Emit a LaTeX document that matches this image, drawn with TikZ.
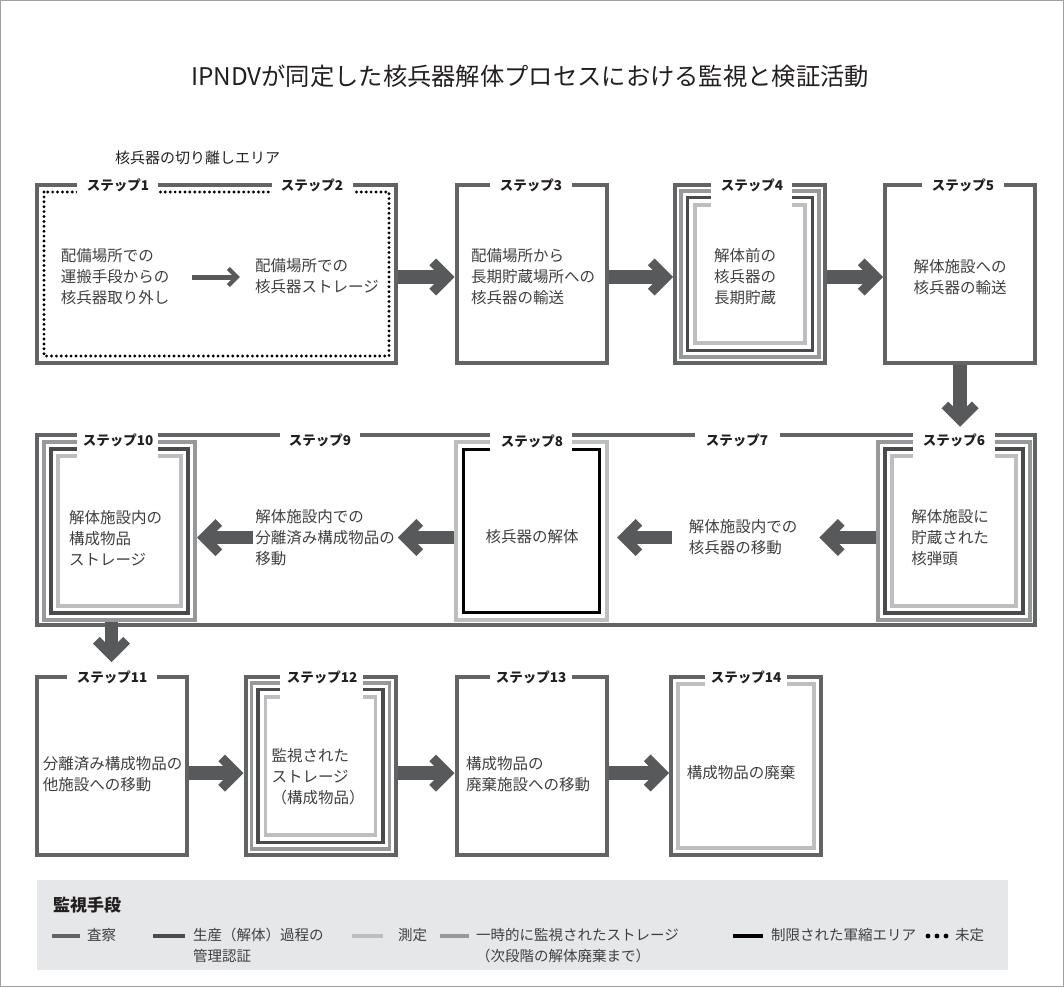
\documentclass[tikz,border=0pt]{standalone}
\usepackage{tikz}
\usepackage{fontspec}
\setmainfont{Noto Sans CJK JP}
\usetikzlibrary{arrows.meta,calc}
\definecolor{insp}{HTML}{626365}
\definecolor{prod}{HTML}{4A4A4C}
\definecolor{meas}{HTML}{BCBEC0}
\definecolor{temp}{HTML}{97989A}
\definecolor{arr}{HTML}{58595B}
\definecolor{txtc}{HTML}{3F3F41}
\definecolor{ink}{HTML}{231F20}
\definecolor{legbg}{HTML}{E6E7E8}
\definecolor{edge}{HTML}{A0A0A0}

\pgfdeclarearrow{
  name = BigChev,
  setup code = {
    \pgfarrowssettipend{0pt}
    \pgfarrowssetlineend{-10pt}
    \pgfarrowssetbackend{-25.2pt}
  },
  drawing code = {
    \pgfpathmoveto{\pgfqpoint{0pt}{0pt}}
    \pgfpathlineto{\pgfqpoint{-18.5pt}{18.5pt}}
    \pgfpathlineto{\pgfqpoint{-25.2pt}{11.8pt}}
    \pgfpathlineto{\pgfqpoint{-13.4pt}{0pt}}
    \pgfpathlineto{\pgfqpoint{-25.2pt}{-11.8pt}}
    \pgfpathlineto{\pgfqpoint{-18.5pt}{-18.5pt}}
    \pgfpathclose
    \pgfusepathqfill
  }
}
\pgfdeclarearrow{
  name = SmallChev,
  setup code = {
    \pgfarrowssettipend{0pt}
    \pgfarrowssetlineend{-4.5pt}
    \pgfarrowssetbackend{-13pt}
  },
  drawing code = {
    \pgfpathmoveto{\pgfqpoint{0pt}{0pt}}
    \pgfpathlineto{\pgfqpoint{-10pt}{10pt}}
    \pgfpathlineto{\pgfqpoint{-13pt}{7pt}}
    \pgfpathlineto{\pgfqpoint{-6pt}{0pt}}
    \pgfpathlineto{\pgfqpoint{-13pt}{-7pt}}
    \pgfpathlineto{\pgfqpoint{-10pt}{-10pt}}
    \pgfpathclose
    \pgfusepathqfill
  }
}
\newcommand\nestline[4]{\draw[draw=#3, line width=#4] ($(#1.north west)+(#2,#2)$) rectangle ($(#1.south east)+(-#2,-#2)$);}

\begin{document}
\begin{tikzpicture}[x=1pt,y=-1pt,
  box/.style={draw=insp, line width=4pt, minimum width=150pt, minimum height=178pt, inner sep=0pt},
  txt/.style={font=\fontsize{15.5pt}{21pt}\selectfont, text=txtc, align=left, inner sep=0pt},
  lab/.style={font=\fontsize{13.5pt}{14pt}\selectfont\bfseries, text=ink, inner sep=0pt},
  gapw/.style={fill=white, draw=none},
  bigarr/.style={draw=arr, line width=13.5pt, -{BigChev}},
  smallarr/.style={draw=arr, line width=5pt, -{SmallChev}},
  dotline/.style={draw=black, dash pattern=on 0pt off 4.9pt, line cap=round, line width=3.2pt},
  legtxt/.style={font=\fontsize{14.5pt}{21pt}\selectfont, text=txtc, align=left, inner sep=0pt, anchor=north west},
  legline/.style={line width=4pt}
]
\useasboundingbox (0,0) rectangle (1064,987);
\draw[edge, line width=1pt] (0.5,0.5) rectangle (1063.5,986.5);

% title
\node[font=\fontsize{24.3pt}{28pt}\selectfont, text=ink] (title) at (530,76) {IPNDVが同定した核兵器解体プロセスにおける監視と検証活動};
\node[font=\fontsize{15pt}{18pt}\selectfont, text=ink, anchor=west, inner sep=0pt] (area) at (115,158) {核兵器の切り離しエリア};

% row 1
\node[box, minimum width=359pt] (f12) at (216.5,274) {};
\draw[dotline] ($(f12.north west)+(9,9)$) rectangle ($(f12.south east)+(-9,-9)$);
\node[box] (s3) at (531.5,274) {};
\node[box] (s4) at (750,274) {};
\nestline{s4}{8}{temp}{3.5pt}
\nestline{s4}{14.5}{prod}{3.5pt}
\nestline{s4}{22}{meas}{3.5pt}
\node[box] (s5) at (960,274) {};

% row 2
\node[box, line width=4.5pt, minimum width=998pt, minimum height=190pt] (fr) at (536,530) {};
\node[box, draw=temp, minimum width=152pt] (s6) at (954,531) {};
\nestline{s6}{9}{prod}{3.5pt}
\nestline{s6}{16}{meas}{3.5pt}
\node[box, draw=meas, minimum width=151pt] (s8) at (531.5,531) {};
\nestline{s8}{9.5}{black}{3.5pt}
\node[box, draw=temp, minimum width=151pt] (s10) at (119.5,531) {};
\nestline{s10}{9}{prod}{3.5pt}
\nestline{s10}{16}{meas}{3.5pt}

% row 3
\node[box] (s11) at (111.5,766) {};
\node[box] (s12) at (320.5,766) {};
\nestline{s12}{8}{temp}{3.5pt}
\nestline{s12}{14.5}{prod}{3.5pt}
\nestline{s12}{22}{meas}{3.5pt}
\node[box] (s13) at (531.5,766) {};
\node[box] (s14) at (746,766) {};
\nestline{s14}{9}{meas}{3.5pt}

% label gaps
\fill[gapw] (77,180) rectangle (158,197);
\fill[gapw] (272,180) rectangle (353,197);
\fill[gapw] (490,180) rectangle (572,190);
\fill[gapw] (711,180) rectangle (792,208);
\fill[gapw] (922,180) rectangle (1004,190);
\fill[gapw] (77,430) rectangle (158,459);
\fill[gapw] (280,430) rectangle (360,440);
\fill[gapw] (490,430) rectangle (572,452);
\fill[gapw] (695,430) rectangle (780,440);
\fill[gapw] (913,430) rectangle (995,459);
\fill[gapw] (67,672) rectangle (157,682);
\fill[gapw] (280,672) rectangle (363,701);
\fill[gapw] (490,672) rectangle (572,682);
\fill[gapw] (705,672) rectangle (787,687);

% step labels
\node[lab] (l1) at (118,185) {ステップ1};
\node[lab] (l2) at (312,185) {ステップ2};
\node[lab] (l3) at (531,185) {ステップ3};
\node[lab] (l4) at (752,185) {ステップ4};
\node[lab] (l5) at (963,185) {ステップ5};
\node[lab] (l6) at (954,440) {ステップ6};
\node[lab] (l7) at (737,440) {ステップ7};
\node[lab] (l8) at (532,441) {ステップ8};
\node[lab] (l9) at (320,440) {ステップ9};
\node[lab] (l10) at (118,440) {ステップ10};
\node[lab] (l11) at (112,677) {ステップ11};
\node[lab] (l12) at (322,677) {ステップ12};
\node[lab] (l13) at (531,677) {ステップ13};
\node[lab] (l14) at (746,677) {ステップ14};

% texts
\node[txt] (t1) at (115,277) {配備場所での\\運搬手段からの\\核兵器取り外し};
\node[txt] (t2) at (317,276) {配備場所での\\核兵器ストレージ};
\node[txt] (t3) at (533,277) {配備場所から\\長期貯蔵場所への\\核兵器の輸送};
\node[txt] (t4) at (745,277) {解体前の\\核兵器の\\長期貯蔵};
\node[txt] (t5) at (960,277.5) {解体施設への\\核兵器の輸送};
\node[txt] (t6) at (950,538) {解体施設に\\貯蔵された\\核弾頭};
\node[txt] (t7) at (743,537.5) {解体施設内での\\核兵器の移動};
\node[txt] (t8) at (532,537) {核兵器の解体};
\node[txt] (t9) at (325,538) {解体施設内での\\分離済み構成物品の\\移動};
\node[txt] (t10) at (115.5,538) {解体施設内の\\構成物品\\ストレージ};
\node[txt] (t11) at (112.5,774) {分離済み構成物品の\\他施設への移動};
\node[txt] (t12) at (318,777) {監視された\\ストレージ\\（構成物品）};
\node[txt] (t13) at (528,774) {構成物品の\\廃棄施設への移動};
\node[txt] (t14) at (741,773) {構成物品の廃棄};

% arrows
\draw[smallarr] ($(t1.east)+(23,0)$) -- ($(t1.east -| t2.west)+(-15,0)$);
\draw[bigarr] ($(f12.east)+(0,3)$) -- ($(s3.west)+(0,3)$);
\draw[bigarr] ($(s3.east)+(0,3)$) -- ($(s4.west)+(0,3)$);
\draw[bigarr] ($(s4.east)+(0,3)$) -- ($(s5.west)+(0,3)$);
\path (s5.south |- fr.north) ++(0,-6) coordinate (d6);
\draw[bigarr] (s5.south) -- (d6);
\draw[bigarr] (s6.west |- t7.east) -- ($(t7.east)+(22,0)$);
\draw[bigarr] ($(t7.west)+(-17,0)$) -- ($(s8.east |- t7.west)+(8,0)$);
\draw[bigarr] (s8.west |- t7.west) -- ($(t9.east |- t7.west)+(3,0)$);
\draw[bigarr] ($(t9.west |- t7.west)+(-2,0)$) -- (s10.east |- t7.west);
\path (s11.north) ++(0,-13) coordinate (d11);
\draw[bigarr] (s10.south -| s11.north) -- (d11);
\draw[bigarr] ($(s11.east)+(0,7)$) -- ($(s12.west)+(0,7)$);
\draw[bigarr] ($(s12.east)+(0,7)$) -- ($(s13.west)+(0,7)$);
\draw[bigarr] ($(s13.east)+(0,7)$) -- ($(s14.west)+(0,7)$);

% legend
\fill[legbg] (37,880) rectangle (1008,970);
\node[font=\fontsize{17pt}{20pt}\selectfont\bfseries, text=ink, anchor=west, inner sep=0pt] (lt) at (53,905) {監視手段};
\draw[legline, insp] (52,936) -- (80,936);
\node[legtxt] (g1) at (87,928) {査察};
\draw[legline, prod] (153,936) -- (185,936);
\node[legtxt] (g2) at (193,928) {生産（解体）過程の\\管理認証};
\draw[legline, meas] (352,936) -- (383,936);
\node[legtxt] (g3) at (398,928) {測定};
\draw[legline, temp] (440,936) -- (469,936);
\node[legtxt] (g4) at (476,928) {一時的に監視されたストレージ\\（次段階の解体廃棄まで）};
\draw[legline, black] (733,936) -- (763,936);
\node[legtxt] (g5) at (771,928) {制限された軍縮エリア};
\fill[black] (928,936) circle[radius=2.4pt];
\fill[black] (937,936) circle[radius=2.4pt];
\fill[black] (946,936) circle[radius=2.4pt];
\node[legtxt] (g6) at (955,928) {未定};
\end{tikzpicture}
\end{document}
